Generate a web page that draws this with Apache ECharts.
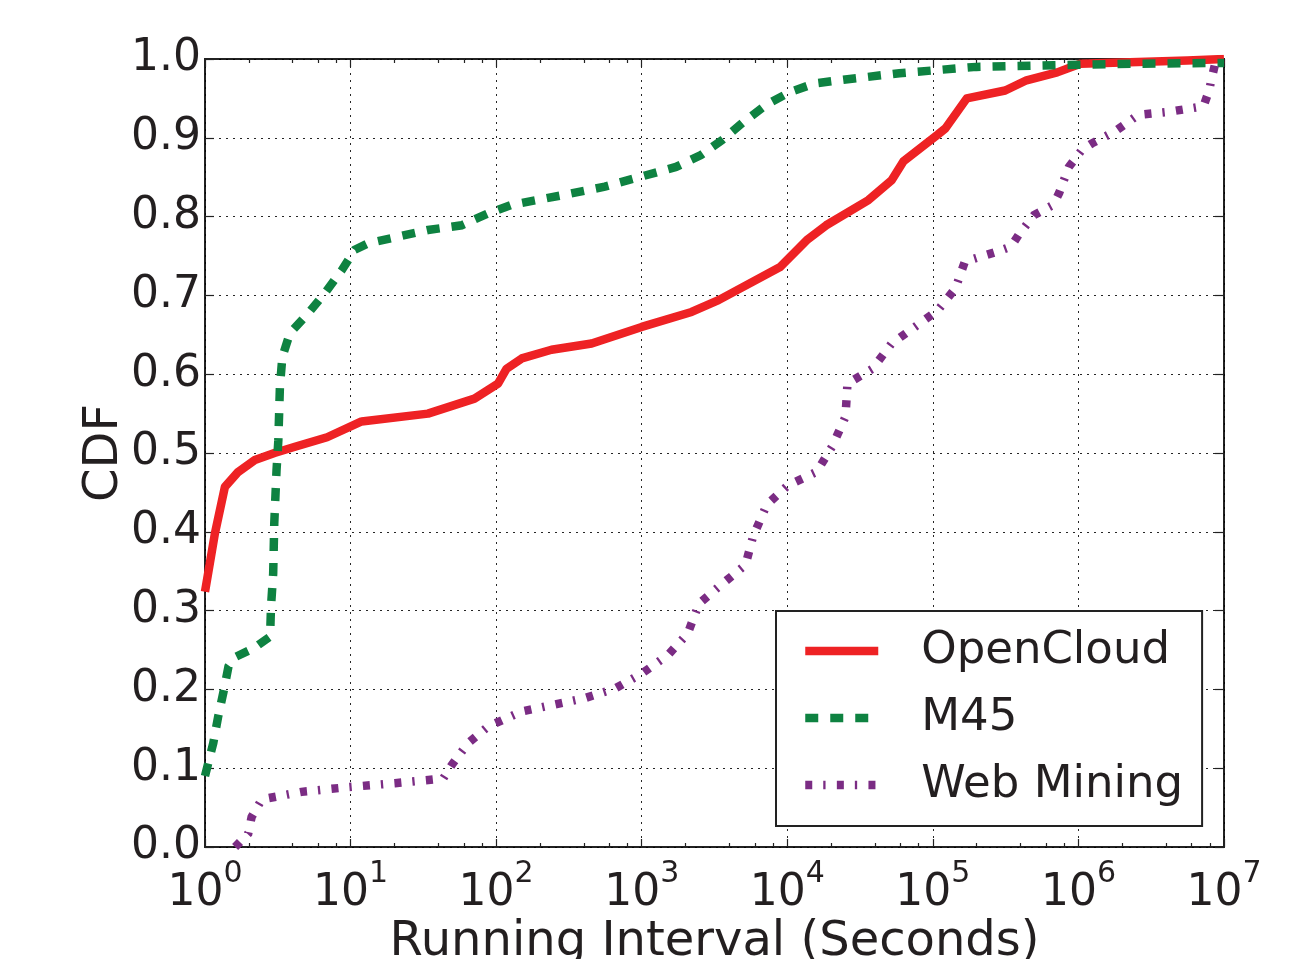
<!DOCTYPE html>
<html>
<head>
<meta charset="utf-8">
<script src="https://cdn.jsdelivr.net/npm/echarts@6/dist/echarts.min.js"></script>
<style>
html,body{margin:0;padding:0;background:#fff;}
#chart{width:1309px;height:959px;}
</style>
</head>
<body>
<div id="chart"></div>
<script>
// ---- data ----
var seriesNames = ['OpenCloud', 'M45', 'Web Mining'];

var openCloudX = [1, 1.17, 1.37, 1.69, 2.2, 3.0, 4.15, 6.9, 11.9, 34, 71, 103, 118, 150, 240, 453, 1000, 2200, 3370, 8930, 13600, 18500, 36100, 52100, 62700, 108000, 122000, 171000, 314000, 440000, 715000, 1030000, 5600000, 10000000];
var openCloudY = [0.324, 0.398, 0.457, 0.476, 0.491, 0.500, 0.508, 0.520, 0.540, 0.550, 0.569, 0.588, 0.607, 0.620, 0.631, 0.639, 0.660, 0.679, 0.694, 0.736, 0.770, 0.789, 0.821, 0.846, 0.870, 0.904, 0.912, 0.950, 0.960, 0.973, 0.983, 0.994, 0.998, 1.0];

var m45X = [1, 1.14, 1.23, 1.34, 1.45, 1.61, 2.15, 2.8, 2.84, 2.94, 2.99, 3.1, 3.19, 3.27, 3.4, 3.83, 5.1, 6.67, 8.7, 10.7, 13.2, 34, 58, 88, 128, 282, 558, 1000, 1720, 2550, 3560, 5000, 7200, 10400, 15400, 25100, 58900, 108000, 199000, 673000, 2280000, 10000000];
var m45Y = [0.09, 0.132, 0.165, 0.197, 0.229, 0.241, 0.252, 0.267, 0.305, 0.347, 0.41, 0.478, 0.516, 0.584, 0.622, 0.652, 0.677, 0.703, 0.732, 0.758, 0.766, 0.783, 0.789, 0.804, 0.815, 0.827, 0.838, 0.851, 0.863, 0.878, 0.897, 0.920, 0.942, 0.958, 0.969, 0.974, 0.982, 0.986, 0.990, 0.992, 0.994, 0.995];

var webMiningX = [1.61, 1.98, 2.09, 2.45, 2.72, 4.61, 9.64, 20.2, 34.2, 43.3, 49.5, 64.3, 88.3, 150, 240, 407, 655, 1000, 1520, 2070, 2480, 3580, 5160, 5820, 7210, 10100, 15900, 20300, 25100, 25900, 38500, 52100, 75200, 108000, 143000, 166000, 270000, 344000, 389000, 496000, 673000, 737000, 859000, 1060000, 1240000, 1780000, 2570000, 4180000, 7230000, 7930000, 8170000, 8690000, 10000000];
var webMiningY = [0.0, 0.017, 0.038, 0.060, 0.062, 0.070, 0.076, 0.081, 0.085, 0.087, 0.104, 0.132, 0.153, 0.172, 0.180, 0.189, 0.201, 0.220, 0.244, 0.271, 0.309, 0.334, 0.358, 0.394, 0.434, 0.459, 0.476, 0.508, 0.546, 0.588, 0.607, 0.639, 0.660, 0.681, 0.709, 0.743, 0.755, 0.762, 0.777, 0.802, 0.815, 0.830, 0.863, 0.885, 0.893, 0.908, 0.929, 0.933, 0.940, 0.961, 0.973, 0.994, 0.995];

// tick labels
var xTickExponents = ['0', '1', '2', '3', '4', '5', '6', '7'];
var yTickLabels = ['0.0', '0.1', '0.2', '0.3', '0.4', '0.5', '0.6', '0.7', '0.8', '0.9', '1.0'];
var xMinorTicks = [2, 4, 6, 8, 20, 40, 60, 80, 200, 400, 600, 800, 2000, 4000, 6000, 8000,
  20000, 40000, 60000, 80000, 200000, 400000, 600000, 800000, 2000000, 4000000, 6000000, 8000000];

var xName = 'Running Interval (Seconds)';
var yName = 'CDF';

// ---- chart ----
function pairs(xs, ys) {
  var out = [];
  for (var i = 0; i < xs.length; i++) out.push([xs[i], ys[i]]);
  return out;
}

var FONT = 'DejaVu Sans';
var TXT = '#231f20';
var AX = '#222222';

var chart = echarts.init(document.getElementById('chart'), null, {renderer: 'canvas'});

var gridLine = {show: true, lineStyle: {color: '#000', width: 1, type: [2, 5], opacity: 0.85}};

var option = {
  backgroundColor: '#ffffff',
  animation: false,
  textStyle: {fontFamily: FONT},
  grid: {left: 205, right: 85, top: 59, bottom: 112, containLabel: false, outerBoundsMode: 'none',
    show: true, borderColor: AX, borderWidth: 2, backgroundColor: 'transparent'},
  legend: {
    orient: 'vertical',
    left: 776,
    top: 611,
    data: seriesNames,
    itemWidth: 73,
    itemHeight: 14,
    itemGap: 17,
    padding: [15, 19, 16, 25],
    backgroundColor: '#ffffff',
    borderColor: AX,
    borderWidth: 2,
    borderRadius: 0,
    itemStyle: {opacity: 0, borderWidth: 0},
    lineStyle: {width: 8.5, cap: 'butt'},
    textStyle: {fontFamily: FONT, fontSize: 45, color: TXT, lineHeight: 50, padding: [0, 0, 0, 38]}
  },
  xAxis: [
    {
      type: 'log', logBase: 10, min: 1, max: 10000000, interval: 1,
      position: 'bottom',
      name: xName, nameLocation: 'middle', nameGap: 72, nameMoveOverlap: false,
      nameTextStyle: {fontFamily: FONT, fontSize: 48, color: TXT},
      axisLine: {show: false},
      axisTick: {show: true, inside: true, length: 8, lineStyle: {color: AX, width: 1.2}},
      splitLine: gridLine,
      axisLabel: {
        show: true, margin: 12,
        formatter: function (v) {
          var e = Math.round(Math.log(v) / Math.LN10);
          return '{b|10}{s|' + xTickExponents[e] + '}';
        },
        rich: {
          b: {fontFamily: FONT, fontSize: 44, color: TXT, lineHeight: 57, verticalAlign: 'bottom'},
          s: {fontFamily: FONT, fontSize: 30, color: TXT, lineHeight: 30, verticalAlign: 'top'}
        }
      }
    },
    {
      type: 'log', logBase: 10, min: 1, max: 10000000, interval: 1,
      position: 'bottom',
      axisLine: {show: false}, axisLabel: {show: false}, splitLine: {show: false},
      axisTick: {show: true, inside: true, length: 4, customValues: xMinorTicks, lineStyle: {color: AX, width: 1.2}}
    },
    {
      type: 'log', logBase: 10, min: 1, max: 10000000, interval: 1,
      position: 'top',
      axisLine: {show: false}, axisLabel: {show: false}, splitLine: {show: false},
      axisTick: {show: true, inside: true, length: 8, lineStyle: {color: AX, width: 1.2}}
    },
    {
      type: 'log', logBase: 10, min: 1, max: 10000000, interval: 1,
      position: 'top',
      axisLine: {show: false}, axisLabel: {show: false}, splitLine: {show: false},
      axisTick: {show: true, inside: true, length: 4, customValues: xMinorTicks, lineStyle: {color: AX, width: 1.2}}
    }
  ],
  yAxis: [
    {
      type: 'value', min: 0, max: 1, interval: 0.1,
      position: 'left',
      name: yName, nameLocation: 'middle', nameGap: 76, nameMoveOverlap: false,
      nameTextStyle: {fontFamily: FONT, fontSize: 48, color: TXT},
      axisLine: {show: false},
      axisTick: {show: true, inside: true, length: 9, lineStyle: {color: AX, width: 1.2}},
      splitLine: gridLine,
      axisLabel: {
        show: true, margin: 4, fontFamily: FONT, fontSize: 44, color: TXT,
        formatter: function (v) { return yTickLabels[Math.round(v * 10)]; }
      }
    },
    {
      type: 'value', min: 0, max: 1, interval: 0.1,
      position: 'right',
      axisLine: {show: false}, axisLabel: {show: false}, splitLine: {show: false},
      axisTick: {show: true, inside: true, length: 9, lineStyle: {color: AX, width: 1.2}}
    }
  ],
  series: [
    {
      name: seriesNames[0], type: 'line', xAxisIndex: 0, yAxisIndex: 0,
      data: pairs(openCloudX, openCloudY),
      symbol: 'none', showSymbol: false, smooth: false,
      itemStyle: {color: '#ee2224'},
      lineStyle: {color: '#ee2224', width: 8.5, type: 'solid', cap: 'butt', join: 'round'},
      z: 3
    },
    {
      name: seriesNames[1], type: 'line', xAxisIndex: 0, yAxisIndex: 0,
      data: pairs(m45X, m45Y),
      symbol: 'none', showSymbol: false, smooth: false,
      itemStyle: {color: '#0e8241'},
      lineStyle: {color: '#0e8241', width: 8.5, type: [13, 12], cap: 'butt', join: 'miter'},
      z: 4
    },
    {
      name: seriesNames[2], type: 'line', xAxisIndex: 0, yAxisIndex: 0,
      data: pairs(webMiningX, webMiningY),
      symbol: 'none', showSymbol: false, smooth: false,
      itemStyle: {color: '#7b2c84'},
      lineStyle: {color: '#7b2c84', width: 8.5, type: [7, 11, 2.3, 11.3], cap: 'butt', join: 'miter'},
      z: 5
    }
  ]
};

chart.setOption(option);
</script>
</body>
</html>
